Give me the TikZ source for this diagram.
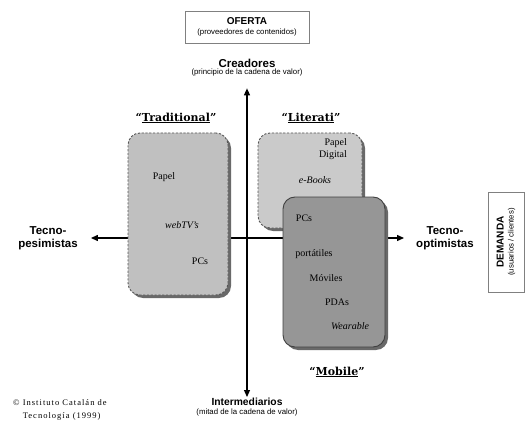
\documentclass[tikz,border=0pt]{standalone}
\usepackage{fontspec}
\setmainfont{Liberation Serif}
\setsansfont{Liberation Sans}
\newfontfamily\tagfont{DejaVu Serif}
\newfontfamily\notefont[LetterSpace=12]{Liberation Serif}
\usetikzlibrary{positioning,arrows.meta,shadows}
\definecolor{tradgray}{RGB}{192,192,192}
\definecolor{litgray}{RGB}{202,202,202}
\definecolor{mobgray}{RGB}{150,150,150}
\definecolor{shadegray}{RGB}{105,105,105}
\definecolor{edgegray}{RGB}{85,85,85}

\begin{document}
\begin{tikzpicture}[x=1pt, y=-1pt,
    axisline/.style={line width=1.2pt, {Triangle[length=7pt,width=6pt]}-{Triangle[length=7pt,width=6pt]}},
    pole/.style={font=\sffamily\bfseries\fontsize{11.5}{13.5}\selectfont, align=center, inner sep=0pt},
    polesub/.style={font=\sffamily\fontsize{7.8}{9}\selectfont, inner sep=0pt},
    sidebox/.style={draw=gray, line width=0.8pt, align=center, font=\sffamily\fontsize{7.8}{10}\selectfont},
    blob/.style={rounded corners=12pt, inner sep=0pt, drop shadow={shadow xshift=3pt, shadow yshift=-3pt, fill=shadegray, opacity=1}},
    loose/.style={blob, draw=edgegray, line width=0.9pt, dash pattern=on 2.2pt off 1.6pt},
    grouptag/.style={font=\tagfont\bfseries\fontsize{11}{12}\selectfont, inner sep=0pt},
    gitem/.style={font=\fontsize{10}{12}\selectfont, inner sep=0pt}]
    \useasboundingbox (0,0) rectangle (525,425);

    \node[pole] (crea) at (247,63) {Creadores};
    \node[polesub] (creasub) at (247,72.5) {(principio de la cadena de valor)};
    \node[pole, font=\sffamily\bfseries\fontsize{10.3}{12}\selectfont] (inter) at (247,402) {Intermediarios};
    \node[polesub] (intersub) at (247,412) {(mitad de la cadena de valor)};
    \node[pole] (pesim) at (48,238) {Tecno-\\pesimistas};
    \node[pole] (optim) at (445,238) {Tecno-\\optimistas};

    \draw[axisline, shorten <=12pt, shorten >=1pt] (creasub) -- (inter);
    \draw[axisline, shorten <=13pt, shorten >=12pt] (pesim) -- (optim);

    \node[sidebox, minimum width=124pt, minimum height=32pt] (oferta) at (247,27) {{\bfseries\fontsize{10}{10}\selectfont OFERTA}\\(proveedores de contenidos)};
    \node[sidebox, rotate=90, minimum width=100pt, minimum height=36pt] (demanda) at (506,242) {{\bfseries\fontsize{10}{10}\selectfont DEMANDA}\\(usuarios / clientes)};

    \node[loose, fill=tradgray, minimum width=100pt, minimum height=162pt] (trad) at (178,214) {};
    \node[loose, fill=litgray, minimum width=104pt, minimum height=95pt] (lit) at (310,180.5) {};
    \node[blob, draw=black!75, line width=0.9pt, fill=mobgray, minimum width=102pt, minimum height=150pt] (mob) at (334,272) {};

    \node[grouptag] (tradtag) at (176,118) {“\underline{Traditional}”};
    \node[grouptag] (littag) at (311,118) {“\underline{Literati}”};
    \node[grouptag] (mobtag) at (337,372) {“\underline{Mobile}”};

    \node[gitem] (tpapel) at (164,177) {Papel};
    \node[gitem] (twebtv) at (182,225) {\itshape webTV's};
    \node[gitem] (tpcs) at (200,261) {PCs};
    \node[gitem, align=right, anchor=east] (lpapel) at (347,149) {Papel\\Digital};
    \node[gitem] (lebooks) at (315,180) {\itshape e-Books};
    \node[gitem] (mpcs) at (304,218) {PCs};
    \node[gitem] (mport) at (314,254) {portátiles};
    \node[gitem] (mmov) at (326,278) {Móviles};
    \node[gitem] (mpdas) at (337,302) {PDAs};
    \node[gitem] (mwear) at (350,326) {\itshape Wearable};

    \node[font=\notefont\fontsize{8.5}{13}\selectfont, align=left, anchor=north west, inner sep=0pt] (itc) at (13,399) {© Instituto Catalán de\\\hphantom{© }Tecnología (1999)};
\end{tikzpicture}
\end{document}
